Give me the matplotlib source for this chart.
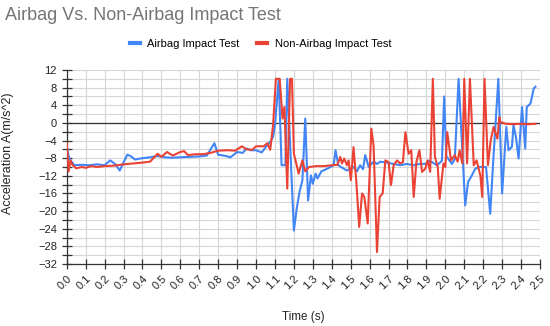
"""Airbag vs. non-airbag impact test acceleration traces."""

import numpy as np
import matplotlib.pyplot as plt
from matplotlib.ticker import MultipleLocator
from matplotlib.lines import Line2D

plt.rcParams["font.family"] = ["Liberation Sans", "DejaVu Sans"]

# readings (time in s, acceleration in m/s^2)
t_airbag = [
    0.0, 0.01, 0.02, 0.04, 0.08, 0.12, 0.16, 0.2, 0.23, 0.26, 0.28, 0.3,
    0.32, 0.34, 0.36, 0.4, 0.44, 0.48, 0.52, 0.55, 0.6, 0.65, 0.7, 0.74,
    0.78, 0.8, 0.84, 0.865, 0.9, 0.93, 0.95, 0.97, 1.0, 1.03, 1.06, 1.075,
    1.09, 1.1, 1.12, 1.135, 1.155, 1.165, 1.2, 1.215, 1.23, 1.245, 1.26,
    1.275, 1.29, 1.3, 1.315, 1.325, 1.345, 1.38, 1.41, 1.42, 1.435, 1.445,
    1.48, 1.515, 1.533, 1.55, 1.565, 1.577, 1.595, 1.62, 1.64, 1.656, 1.69,
    1.727, 1.762, 1.797, 1.83, 1.868, 1.894, 1.912, 1.93, 1.956, 1.982,
    1.994, 2.005, 2.02, 2.035, 2.05, 2.07, 2.105, 2.12, 2.14, 2.158, 2.176,
    2.193, 2.215, 2.237, 2.255, 2.28, 2.3, 2.322, 2.334, 2.352, 2.36, 2.373,
    2.387, 2.405, 2.422, 2.43, 2.45, 2.467, 2.476,
]
a_airbag = [
    -5.5, -7.5, -8.5, -9.6, -9.5, -9.6, -9.4, -9.6, -8.5, -9.5, -10.8, -9.0,
    -7.2, -7.6, -8.3, -8.0, -7.8, -7.5, -7.8, -7.9, -7.8, -7.7, -7.6, -7.4,
    -4.6, -7.2, -7.5, -7.8, -6.6, -6.8, -5.8, -6.2, -6.2, -6.7, -5.0, -4.3,
    -3.2, -0.5, 10.0, -9.6, -9.6, 10.0, -24.4, -19.4, -15.6, -13.0, 1.0,
    -17.6, -11.9, -13.8, -11.5, -12.6, -11.0, -10.3, -9.6, -6.2, -9.6, -9.9,
    -10.8, -10.0, -11.0, -9.6, -10.5, -7.3, -10.0, -8.8, -9.3, -8.8, -9.0,
    -9.3, -9.6, -9.3, -9.6, -9.3, -9.3, -8.6, -8.9, -9.6, -8.6,
    6.0, -7.5, -8.4, -9.3, -8.2, 10.0, -18.7, -13.4, -11.9, -10.4, -10.0,
    -10.0, -10.0, -20.6, -7.3, 10.0, -16.0, -0.9, -6.2, -5.4, -0.5, -3.2,
    -8.1, 3.6, -5.8, 3.6, 4.4, 7.8, 8.2,
]

t_no_airbag = [
    0.0, 0.01, 0.02, 0.03, 0.05, 0.08, 0.1, 0.13, 0.16, 0.2, 0.25, 0.3,
    0.35, 0.4, 0.44, 0.48, 0.5, 0.53, 0.56, 0.6, 0.62, 0.64, 0.68, 0.72,
    0.76, 0.8, 0.85, 0.89, 0.925, 0.95, 0.98, 1.0, 1.04, 1.06, 1.075, 1.09,
    1.105, 1.125, 1.14, 1.15, 1.165, 1.18, 1.19, 1.2, 1.215, 1.225, 1.245,
    1.26, 1.28, 1.32, 1.36, 1.4, 1.43, 1.445, 1.454, 1.466, 1.48, 1.489,
    1.501, 1.515, 1.53, 1.545, 1.56, 1.572, 1.59, 1.609, 1.621, 1.639, 1.653,
    1.669, 1.683, 1.7, 1.713, 1.727, 1.745, 1.762, 1.776, 1.789, 1.806, 1.82,
    1.833, 1.847, 1.863, 1.877, 1.894, 1.906, 1.92, 1.934, 1.945, 1.96, 1.97,
    1.99, 2.0, 2.01, 2.03, 2.05, 2.065, 2.075, 2.09, 2.1, 2.115, 2.13, 2.15,
    2.165, 2.185, 2.195, 2.207, 2.225, 2.24, 2.255, 2.275, 2.285, 2.29, 2.32,
    2.36, 2.4, 2.44, 2.476,
]
a_no_airbag = [
    -4.5, -11.0, -8.5, -9.5, -10.3, -10.0, -10.2, -9.8, -10.0, -9.8, -9.7,
    -9.4, -9.2, -9.0, -8.8, -7.0, -7.7, -6.6, -7.4, -6.6, -6.4, -7.3, -7.1,
    -7.1, -6.8, -6.3, -6.2, -6.3, -5.3, -6.0, -6.1, -5.3, -5.3, -4.6, -6.1,
    -0.5, 10.0, 10.0, 1.0, 3.6, -14.9, 10.0, 10.0, -7.0, -9.6, -11.5, -8.5,
    -11.0, -10.0, -9.8, -9.8, -9.6, -9.5, -7.7, -9.2, -8.1, -9.6, -8.5,
    -13.0, -5.5, -13.4, -23.6, -16.0, -16.8, -22.8, -1.3, -5.1, -29.3, -16.8,
    -16.0, -8.5, -8.9, -14.1, -9.6, -8.5, -9.2, -8.9, -2.1, -7.0, -6.2,
    -16.8, -8.9, -6.2, -11.1, -10.4, -8.5, -11.1, 10.0, -7.7, -10.0, -17.2,
    -9.2, -10.0, -2.1, -8.5, -7.3, -8.8, -6.2, -9.2, 10.0, -9.2, 10.0, -9.6,
    -8.5, -11.9, -16.8, 10.0, -9.6, -3.9, -0.9, -3.6, 1.3, 0.2, -0.2,
    -0.3, -0.2, -0.3, -0.2,
]

BLUE = "#4285F4"
RED = "#EA4335"


def main() -> None:
    fig = plt.figure(figsize=(5.5, 3.26), dpi=100)
    ax = fig.add_axes([0.1213, 0.1902, 0.8605, 0.5951])

    ax.plot(t_airbag, a_airbag, color=BLUE, lw=1.5, zorder=3)
    ax.plot(t_no_airbag, a_no_airbag, color=RED, lw=1.5, zorder=4)
    ax.axhline(0, color="#333333", lw=0.9, zorder=2)

    ax.set_xlim(0, 2.5)
    ax.set_ylim(-32, 12)
    ax.xaxis.set_major_locator(MultipleLocator(0.1))
    ax.yaxis.set_major_locator(MultipleLocator(4))
    ax.yaxis.set_minor_locator(MultipleLocator(2))
    ax.set_xticklabels([f"{v:.1f}" for v in ax.get_xticks()])
    ax.grid(True, which="both", color="#d6d6d6", lw=0.8, zorder=0)
    ax.set_axisbelow(True)

    for side in ("top", "right"):
        ax.spines[side].set_visible(False)
    for side in ("left", "bottom"):
        ax.spines[side].set_color("#333333")
        ax.spines[side].set_linewidth(0.9)

    ax.tick_params(which="both", direction="inout", length=7, width=0.9,
                   color="#333333", labelsize=8, labelcolor="#222222")
    plt.setp(ax.get_xticklabels(), rotation=45, ha="right",
             rotation_mode="anchor")

    ax.set_xlabel("Time (s)", fontsize=8.4, color="#222222", labelpad=14)
    ax.set_ylabel("Acceleration A(m/s^2)", fontsize=9, color="#222222")
    ax.yaxis.set_label_coords(-0.112, 0.572)

    fig.text(0.009, 0.953, "Airbag Vs. Non-Airbag Impact Test",
             fontsize=13, color="#757575", va="center", ha="left")

    handles = [Line2D([], [], color=BLUE, lw=3),
               Line2D([], [], color=RED, lw=3)]
    fig.legend(handles, ["Airbag Impact Test", "Non-Airbag Impact Test"],
               loc="center", bbox_to_anchor=(0.474, 0.865), ncol=2,
               frameon=False, fontsize=8, handlelength=0.9,
               handletextpad=0.7, columnspacing=1.6)

    fig.savefig("out.png", dpi=100)


if __name__ == "__main__":
    main()
